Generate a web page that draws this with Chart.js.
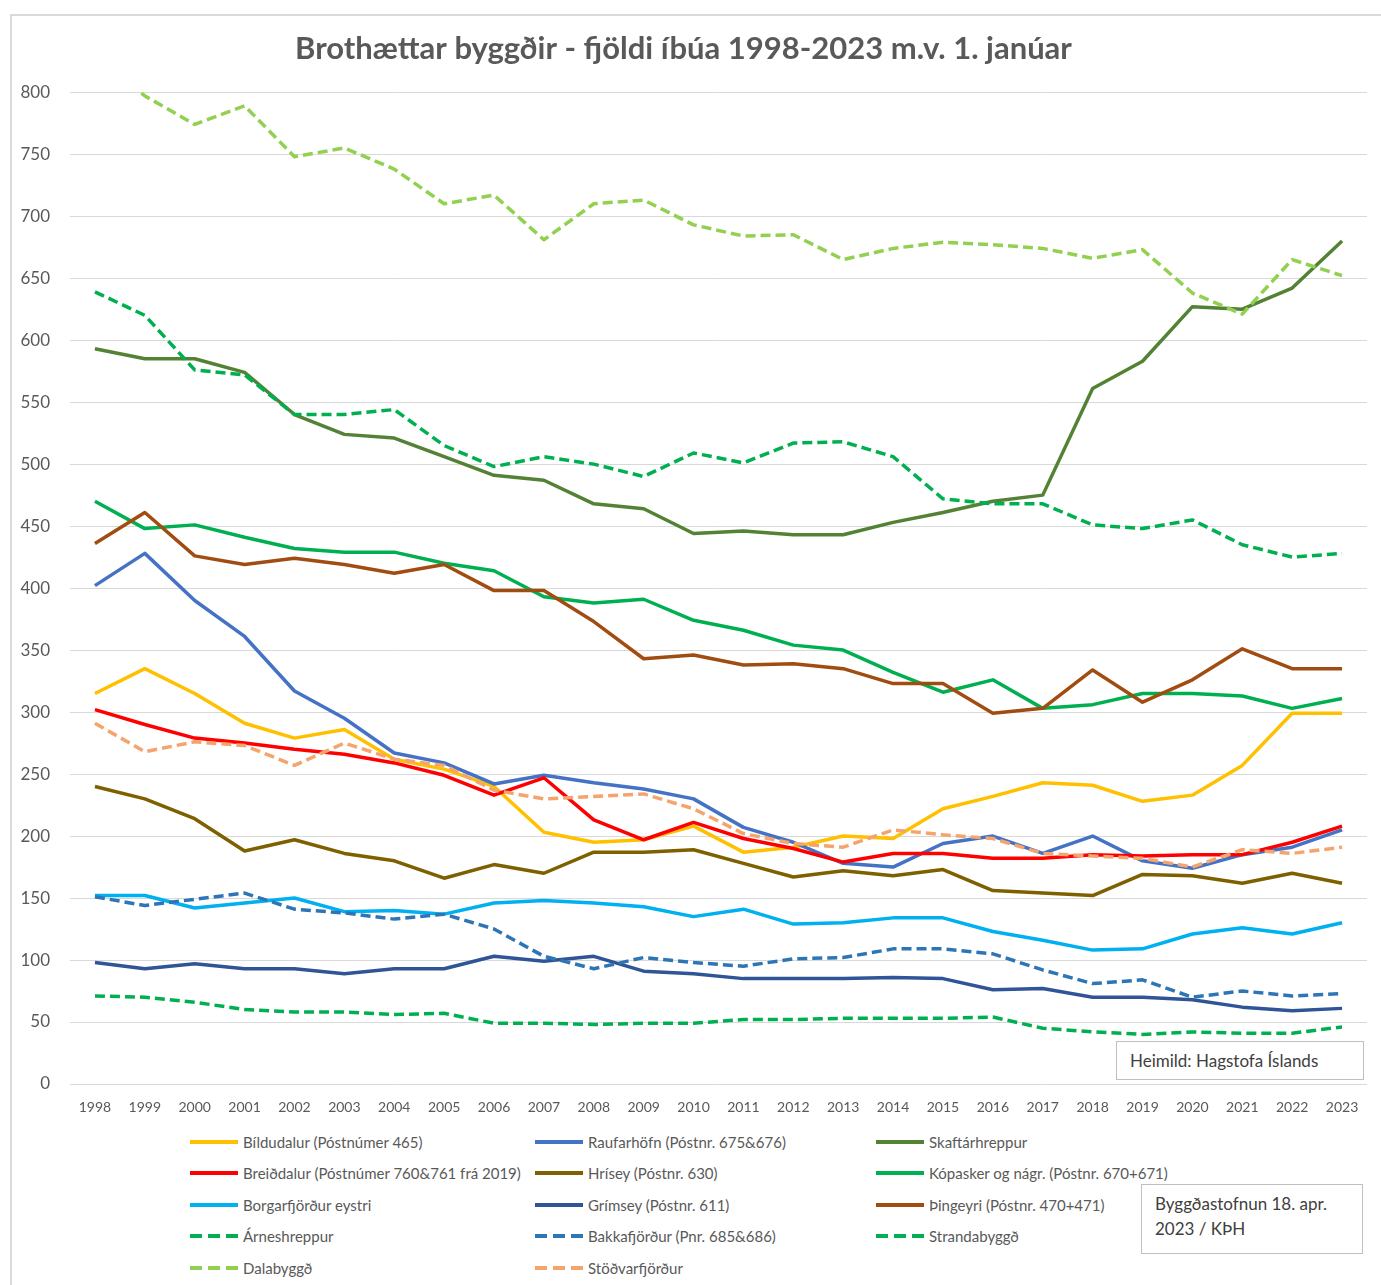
<!DOCTYPE html>
<html>
<head>
<meta charset="utf-8">
<script src="https://cdn.jsdelivr.net/npm/chart.js@4.4.0/dist/chart.umd.min.js"></script>
<style>
    body { margin: 0; background: #fff; font-family: Lato, "Liberation Sans", sans-serif; }
    #wrap { position: relative; width: 1381px; height: 1285px; overflow: hidden; background: #fff; }
    #frame { position: absolute; left: 10px; top: 14px; width: 1400px; height: 1300px; border-left: 2px solid #d9d9d9; border-top: 2px solid #d9d9d9; }
    #chartCanvas { position: absolute; left: 0; top: 0; }
    .leg { position: absolute; height: 20px; display: flex; align-items: center; font-size: 15px; color: #595959; white-space: nowrap; }
    .leg .sw { width: 48px; height: 4px; margin-right: 5px; }
    .note { position: absolute; border: 1px solid #bfbfbf; background: #fff; color: #404040; font-size: 17px; box-sizing: border-box; }
</style>
</head>
<body>
<div id="wrap">
    <div id="frame"></div>
    <canvas id="chartCanvas" width="1381" height="1130"></canvas>
    <div id="legend"></div>
    <div class="note" style="left:1116px; top:1041px; width:248px; height:39px; padding:8px 0 0 13px;">Heimild: Hagstofa Íslands</div>
    <div class="note" style="left:1141px; top:1184px; width:222px; height:70px; padding:6px 0 0 13px; line-height:25px;">Byggðastofnun 18. apr.<br>2023 / KÞH</div>
</div>
<script>
// ÁR (X-ÁS)
var years = ["1998", "1999", "2000", "2001", "2002", "2003", "2004", "2005", "2006", "2007", "2008", "2009", "2010",
    "2011", "2012", "2013", "2014", "2015", "2016", "2017", "2018", "2019", "2020", "2021", "2022", "2023"];

// ÍBÚAFJÖLDI EFTIR BYGGÐUM
var bildudalur = [315, 335, 315, 291, 279, 286, 262, 254, 240, 203, 195, 197, 208, 187, 191, 200, 198, 222, 232, 243, 241, 228, 233, 257, 299, 299];
var raufarhofn = [402, 428, 390, 361, 317, 295, 267, 259, 242, 249, 243, 238, 230, 207, 195, 178, 175, 194, 200, 186, 200, 180, 174, 185, 191, 205];
var skaftarhreppur = [593, 585, 585, 574, 540, 524, 521, 506, 491, 487, 468, 464, 444, 446, 443, 443, 453, 461, 470, 475, 561, 583, 627, 625, 642, 680];
var breiddalur = [302, 290, 279, 275, 270, 266, 259, 249, 233, 247, 213, 197, 211, 198, 190, 179, 186, 186, 182, 182, 185, 184, 185, 185, 195, 208];
var hrisey = [240, 230, 214, 188, 197, 186, 180, 166, 177, 170, 187, 187, 189, 178, 167, 172, 168, 173, 156, 154, 152, 169, 168, 162, 170, 162];
var kopasker = [470, 448, 451, 441, 432, 429, 429, 420, 414, 393, 388, 391, 374, 366, 354, 350, 332, 316, 326, 303, 306, 315, 315, 313, 303, 311];
var borgarfjordur = [152, 152, 142, 146, 150, 139, 140, 137, 146, 148, 146, 143, 135, 141, 129, 130, 134, 134, 123, 116, 108, 109, 121, 126, 121, 130];
var grimsey = [98, 93, 97, 93, 93, 89, 93, 93, 103, 99, 103, 91, 89, 85, 85, 85, 86, 85, 76, 77, 70, 70, 68, 62, 59, 61];
var thingeyri = [436, 461, 426, 419, 424, 419, 412, 419, 398, 398, 373, 343, 346, 338, 339, 335, 323, 323, 299, 303, 334, 308, 326, 351, 335, 335];
var arneshreppur = [71, 70, 66, 60, 58, 58, 56, 57, 49, 49, 48, 49, 49, 52, 52, 53, 53, 53, 54, 45, 42, 40, 42, 41, 41, 46];
var bakkafjordur = [151, 144, 149, 154, 141, 138, 133, 137, 125, 103, 93, 102, 98, 95, 101, 102, 109, 109, 105, 92, 81, 84, 70, 75, 71, 73];
var strandabyggd = [639, 620, 576, 572, 540, 540, 544, 515, 498, 506, 500, 490, 509, 501, 517, 518, 506, 472, 468, 468, 451, 448, 455, 435, 425, 428];
var dalabyggd = [830, 797, 774, 789, 748, 755, 738, 710, 717, 681, 710, 713, 693, 684, 685, 665, 674, 679, 677, 674, 666, 673, 638, 621, 665, 652];
var stodvarfjordur = [291, 268, 276, 273, 257, 275, 262, 257, 237, 230, 232, 234, 222, 202, 194, 191, 205, 201, 198, 186, 184, 182, 175, 189, 186, 191];

var yTicks = [0, 50, 100, 150, 200, 250, 300, 350, 400, 450, 500, 550, 600, 650, 700, 750, 800];

var series = [
    { label: "Bíldudalur (Póstnúmer 465)", data: bildudalur, color: "#FFC000", dash: false },
    { label: "Raufarhöfn (Póstnr. 675&676)", data: raufarhofn, color: "#4472C4", dash: false },
    { label: "Skaftárhreppur", data: skaftarhreppur, color: "#548235", dash: false },
    { label: "Breiðdalur (Póstnúmer 760&761 frá 2019)", data: breiddalur, color: "#FF0000", dash: false },
    { label: "Hrísey (Póstnr. 630)", data: hrisey, color: "#7F6000", dash: false },
    { label: "Kópasker og nágr. (Póstnr. 670+671)", data: kopasker, color: "#00B050", dash: false },
    { label: "Borgarfjörður eystri", data: borgarfjordur, color: "#00B0F0", dash: false },
    { label: "Grímsey (Póstnr. 611)", data: grimsey, color: "#2F5597", dash: false },
    { label: "Þingeyri (Póstnr. 470+471)", data: thingeyri, color: "#A14D12", dash: false },
    { label: "Árneshreppur", data: arneshreppur, color: "#00B050", dash: true },
    { label: "Bakkafjörður (Pnr. 685&686)", data: bakkafjordur, color: "#2E75B6", dash: true },
    { label: "Strandabyggð", data: strandabyggd, color: "#00B050", dash: true },
    { label: "Dalabyggð", data: dalabyggd, color: "#92D050", dash: true },
    { label: "Stöðvarfjörður", data: stodvarfjordur, color: "#F4A46C", dash: true }
];

var datasets = series.map(function(s, i) {
    return {
        label: s.label,
        data: s.data,
        borderColor: s.color,
        backgroundColor: s.color,
        borderWidth: 3.5,
        borderDash: s.dash ? [10, 5] : [],
        borderJoinStyle: "round",
        pointRadius: 0,
        tension: 0,
        fill: false,
        order: series.length - i
    };
});

var ctx = document.getElementById("chartCanvas").getContext("2d");
var chart = new Chart(ctx, {
    type: "line",
    data: { labels: years, datasets: datasets },
    options: {
        responsive: false,
        animation: false,
        layout: { padding: { left: 0, right: 14, top: 0, bottom: 0 } },
        plugins: {
            legend: { display: false },
            tooltip: { enabled: false },
            title: {
                display: true,
                text: "Brothættar byggðir - fjöldi íbúa 1998-2023 m.v. 1. janúar",
                color: "#595959",
                font: { family: "Lato", size: 31, weight: "bold" },
                padding: { top: 30, bottom: 25 }
            }
        },
        scales: {
            x: {
                offset: true,
                grid: { display: false },
                border: { display: false },
                ticks: { color: "#595959", font: { family: "Lato", size: 14 }, padding: 7, maxRotation: 0, autoSkip: false },
                afterFit: function(scale) { scale.height = 46; }
            },
            y: {
                min: 0,
                max: 800,
                afterBuildTicks: function(scale) {
                    scale.ticks = yTicks.map(function(v) { return { value: v }; });
                },
                grid: { color: "#d9d9d9", lineWidth: 1, drawTicks: false },
                border: { display: false },
                ticks: { color: "#595959", font: { family: "Lato", size: 17 }, padding: 20 },
                afterFit: function(scale) { scale.width = 70; }
            }
        }
    }
});

// LEGEND I 3 DÁLKUM
var legendRows = [1142, 1173, 1205, 1236, 1268];
var legendCols = [190, 535, 876];
var legendEl = document.getElementById("legend");
series.forEach(function(s, i) {
    var item = document.createElement("div");
    item.className = "leg";
    item.style.left = legendCols[i % 3] + "px";
    item.style.top = (legendRows[Math.floor(i / 3)] - 10) + "px";
    var sw = document.createElement("span");
    sw.className = "sw";
    if (s.dash) {
        sw.style.background = "repeating-linear-gradient(to right, " + s.color + " 0 12px, transparent 12px 18px)";
    } else {
        sw.style.background = s.color;
    }
    var txt = document.createElement("span");
    txt.textContent = s.label;
    item.appendChild(sw);
    item.appendChild(txt);
    legendEl.appendChild(item);
});
</script>
</body>
</html>
